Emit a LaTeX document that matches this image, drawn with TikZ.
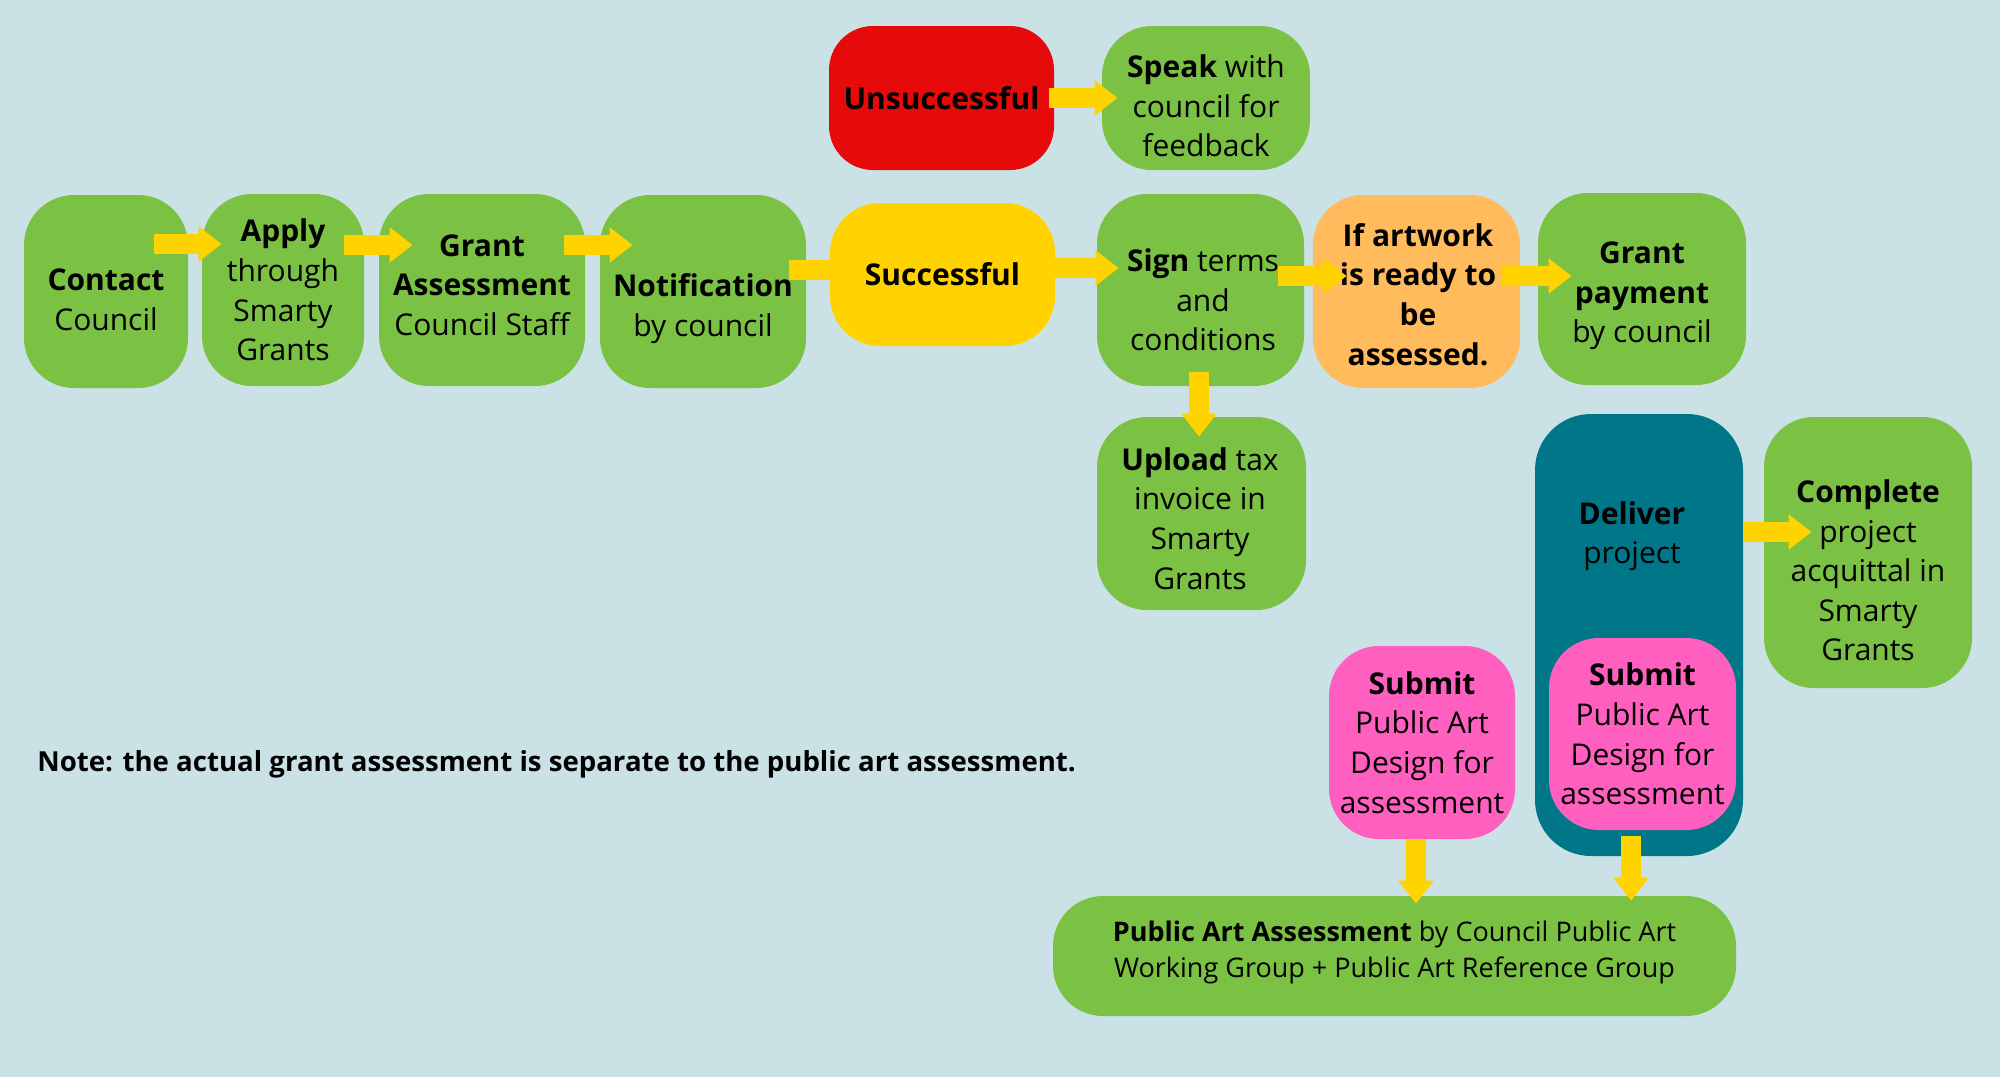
\documentclass[tikz,border=0pt]{standalone}
\usepackage{fontspec}
\setmainfont{Open Sans}
\usetikzlibrary{arrows.meta}
\definecolor{bgc}{HTML}{CAE2E6}
\definecolor{grn}{HTML}{7BC143}
\definecolor{redc}{HTML}{E60A0A}
\definecolor{ylw}{HTML}{FFD200}
\definecolor{orng}{HTML}{FFBB5C}
\definecolor{teal}{HTML}{007789}
\definecolor{pink}{HTML}{FF60C0}
\definecolor{arry}{HTML}{FFD300}
\begin{document}
\begin{tikzpicture}[x=0.5pt,y=-0.5pt,
  box/.style={fill=grn, rounded corners=25pt, inner sep=0pt, align=center,
    font=\fontsize{15}{19.8}\selectfont, text=black},
  txt/.style={inner sep=0pt, align=center, font=\fontsize{15}{19.8}\selectfont, text=black},
  arr/.style={draw=arry, line width=10pt, -{Triangle[length=11.5pt,width=17pt]}}]
\useasboundingbox (0,0) rectangle (2000,1077);
\fill[bgc] (0,0) rectangle (2000,1077);

% boxes
\node[box, minimum width=82pt, minimum height=96.5pt] (contact) at (106,291.5) {};
\node[txt] (contact-t) at (106,299.5) {\textbf{Contact}\\Council};
\node[box, minimum width=81pt, minimum height=96pt] (apply) at (283,290) {\textbf{Apply}\\through\\Smarty\\Grants};
\node[box, minimum width=103pt, minimum height=96pt] (gassess) at (482,290) {};
\node[txt] (gassess-t) at (482,285) {\textbf{Grant}\\\textbf{Assessment}\\Council Staff};
\node[box, minimum width=103pt, minimum height=96.5pt] (notif) at (703,291.5) {};
\node[txt] (notif-t) at (703,308.5) {\textbf{Notification}\\by council};
\node[box, fill=ylw, minimum width=112.5pt, minimum height=71.5pt] (success) at (942.5,274.5) {\textbf{Successful}};
\node[box, fill=redc, rounded corners=22pt, minimum width=112.5pt, minimum height=72pt] (unsucc) at (941.5,98) {\textbf{Unsuccessful}};
\node[box, minimum width=104pt, minimum height=72pt] (speak) at (1206,98) {};
\node[txt] (speak-t) at (1206,106) {\textbf{Speak} with\\council for\\feedback};
\node[box, minimum width=103.5pt, minimum height=96pt] (sign) at (1200.5,290) {};
\node[txt] (sign-t) at (1203,300) {\textbf{Sign} terms\\and\\conditions};
\node[box, fill=orng, minimum width=103.5pt, minimum height=96.5pt] (ifart) at (1416.5,291.5) {};
\node[txt] (ifart-t) at (1418,294.5) {\textbf{If artwork}\\\textbf{is ready to}\\\textbf{be}\\\textbf{assessed.}};
\node[box, minimum width=104pt, minimum height=96pt] (gpay) at (1642,289) {};
\node[txt] (gpay-t) at (1642,296) {\textbf{Grant}\\\textbf{payment}\\by council};
\node[box, minimum width=104.5pt, minimum height=96.5pt] (upload) at (1201.5,513.5) {};
\node[txt] (upload-t) at (1200,518.5) {\textbf{Upload} tax\\invoice in\\Smarty\\Grants};
\node[box, fill=teal, rounded corners=28pt, minimum width=104pt, minimum height=221pt] (deliver) at (1639,635) {};
\node[txt] (deliver-t) at (1632,536) {\textbf{Deliver}\\project};
\node[box, minimum width=104pt, minimum height=135.5pt] (complete) at (1868,552.5) {};
\node[txt] (complete-t) at (1868,570.5) {\textbf{Complete}\\project\\acquittal in\\Smarty\\Grants};
\node[box, fill=pink, minimum width=93pt, minimum height=96.5pt] (submit1) at (1422,742.5) {\textbf{Submit}\\Public Art\\Design for\\assessment};
\node[box, fill=pink, minimum width=93.5pt, minimum height=96pt] (submit2) at (1642.5,734) {\textbf{Submit}\\Public Art\\Design for\\assessment};
\node[box, minimum width=341.5pt, minimum height=60pt] (paa) at (1394.5,956) {};
\node[txt, font=\fontsize{13.5}{18}\selectfont] (paa-t) at (1394.5,952) {\textbf{Public Art Assessment} by Council Public Art\\Working Group + Public Art Reference Group};
\node[anchor=west, inner sep=0pt, font=\fontsize{13.8}{16}\selectfont\bfseries] (note) at (37,764) {Note: the actual grant assessment is separate to the public art assessment.};

% connectors
\draw[arr] ([shift={(-34,-47.5)}]contact.east) -- ([shift={(20,-46)}]apply.west);
\draw[arr] ([shift={(-20,-45)}]apply.east) -- ([shift={(34,-45)}]gassess.west);
\draw[arr] ([shift={(-21,-45)}]gassess.east) -- ([shift={(33,-46.5)}]notif.west);
\draw[arr] ([shift={(-17,-21.5)}]notif.east) -- ([shift={(26,-4.5)}]success.west);
\draw[arr] ([shift={(0,-6.5)}]success.east) -- ([shift={(22,-22)}]sign.west);
\draw[arr] ([shift={(-5,0)}]unsucc.east) -- ([shift={(16,0)}]speak.west);
\draw[arr] ([shift={(-26,-14)}]sign.east) -- ([shift={(34,-15.5)}]ifart.west);
\draw[arr] ([shift={(-18,-15.5)}]ifart.east) -- ([shift={(34,-13)}]gpay.west);
\draw[arr] ([shift={(-1.5,-14)}]sign.south) -- ([shift={(-2.5,20)}]upload.north);
\draw[arr] ([shift={(1,-103)}]deliver.east) -- ([shift={(48,-20.5)}]complete.west);
\draw[arr] ([shift={(-6,0)}]submit1.south) -- ([shift={(21.5,8)}]paa.north);
\draw[arr] ([shift={(-11.5,6)}]submit2.south) -- ([shift={(236.5,5)}]paa.north);
\end{tikzpicture}
\end{document}
